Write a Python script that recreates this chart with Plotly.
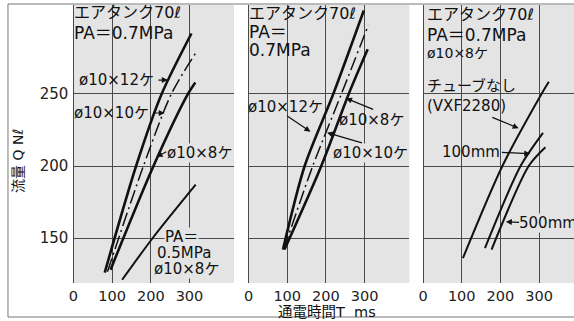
import plotly.graph_objects as go

# ---------------- data ----------------
x_ticks = [0, 100, 200, 300]
y_ticks = [150, 200, 250]

# panel 1 (PA = 0.7MPa, various tube counts)
p1_12_x = [81, 162, 228, 305]
p1_12_y = [126, 200, 250, 292]
p1_10_x = [88, 181, 253, 315]
p1_10_y = [126.5, 200, 250, 278]
p1_8_x = [96, 207, 296, 315]
p1_8_y = [128, 200, 250, 258]
p1_05_x = [126, 205, 316]
p1_05_y = [121, 150, 187]

# panel 2
p2_12_x = [89, 145, 219, 298]
p2_12_y = [142, 200, 250, 308]
p2_10_x = [91, 166, 240, 310]
p2_10_y = [142, 200, 250, 298]
p2_8_x = [93, 188, 259, 308]
p2_8_y = [142, 200, 250, 281]

# panel 3
p3_none_x = [103, 205, 306, 325]
p3_none_y = [136, 200, 250, 258.5]
p3_100_x = [160, 252, 310]
p3_100_y = [143, 200, 223]
p3_500_x = [177, 273, 316]
p3_500_y = [142, 200, 213]

# ---------------- style ----------------
BG = "#e4e4e4"
GRID = "#4a4a4a"
INK = "#111111"
FONT = "DejaVu Sans, Noto Sans CJK JP, sans-serif"
Y_RANGE = [118.75, 311.8]

fig = go.Figure()

def add_line(xs, ys, ax, width=2.6, dash="solid"):
    fig.add_trace(go.Scatter(
        x=xs, y=ys, xaxis=ax[0], yaxis=ax[1], mode="lines",
        line=dict(color=INK, width=width, dash=dash, shape="spline", smoothing=0.8),
        hoverinfo="skip", showlegend=False))

DD = "14px,4px,2px,4px"
A1 = ("x", "y"); A2 = ("x2", "y2"); A3 = ("x3", "y3")
add_line(p1_12_x, p1_12_y, A1)
add_line(p1_10_x, p1_10_y, A1, width=1.5, dash=DD)
add_line(p1_8_x, p1_8_y, A1)
add_line(p1_05_x, p1_05_y, A1, width=2.0)
add_line(p2_12_x, p2_12_y, A2)
add_line(p2_10_x, p2_10_y, A2, width=1.5, dash=DD)
add_line(p2_8_x, p2_8_y, A2)
add_line(p3_none_x, p3_none_y, A3, width=2.0)
add_line(p3_100_x, p3_100_y, A3, width=2.0)
add_line(p3_500_x, p3_500_y, A3, width=2.0)

xcommon = dict(tickvals=x_ticks, ticktext=[str(v) for v in x_ticks], showgrid=True,
               gridcolor=GRID, gridwidth=1, zeroline=True, zerolinecolor=GRID,
               zerolinewidth=1, ticks="", ticklabelstandoff=2,
               tickfont=dict(family=FONT, size=14.5, color="#222"), fixedrange=True)
ycommon = dict(range=Y_RANGE, tickvals=y_ticks, showgrid=True, gridcolor=GRID,
               gridwidth=1, zeroline=False, ticks="", fixedrange=True, ticklabelstandoff=4,
               tickfont=dict(family=FONT, size=15, color="#222"))

W = 574.0
fig.update_layout(
    width=574, height=321,
    margin=dict(l=0, r=0, t=5, b=38),
    paper_bgcolor="white", plot_bgcolor=BG,
    xaxis=dict(domain=[69 / W, 231 / W], range=[0, 415], anchor="y", **xcommon),
    xaxis2=dict(domain=[245.7 / W, 408 / W], range=[0, 416], anchor="y2", **xcommon),
    xaxis3=dict(domain=[421.7 / W, 1.0], range=[0, 390], anchor="y3", **xcommon),
    yaxis=dict(anchor="x", showticklabels=True, **ycommon),
    yaxis2=dict(anchor="x2", showticklabels=False, **ycommon),
    yaxis3=dict(anchor="x3", showticklabels=False, **ycommon),
)

anns = []

def label(text, x, y, ax, size=15, bg=None):
    anns.append(dict(text=text, x=x, y=y, xref=ax[0], yref=ax[1], xanchor="left",
                     yanchor="middle", showarrow=False, bgcolor=bg, borderpad=0, xshift=-3,
                     font=dict(family=FONT, size=size, color=INK)))

def arrow(tail_x, tail_y, tip_x, tip_y, ax):
    anns.append(dict(text="", x=tip_x, y=tip_y, ax=tail_x, ay=tail_y, xref=ax[0],
                     yref=ax[1], axref=ax[0], ayref=ax[1], showarrow=True,
                     arrowhead=2, arrowsize=1, arrowwidth=1.2, arrowcolor=INK))

# panel 1
label("エアタンク70ℓ", 8, 306.3, A1, size=16)
label("PA＝0.7MPa", 8, 292.4, A1, size=17)
label("ø10×12ケ", 20, 259.7, A1)
arrow(216, 259.7, 244, 259.7, A1)
label("ø10×10ケ", 7, 236.8, A1)
arrow(202, 236.8, 236, 236.8, A1)
label("ø10×8ケ", 246, 209, A1, bg=BG)
arrow(244, 210.4, 215, 206.3, A1)
label("PA＝", 241, 150.7, A1, bg=BG)
label("0.5MPa", 220, 139.6, A1, bg=BG)
label("ø10×8ケ", 213, 128.5, A1, bg=BG)

# panel 2
label("エアタンク70ℓ", 6, 306, A2, size=16)
label("PA＝", 6, 293, A2, size=17)
label("0.7MPa", 6, 280.6, A2, size=17)
label("ø10×12ケ", 3, 241, A2)
arrow(96, 235.4, 160, 223.8, A2)
label("ø10×8ケ", 240, 232, A2)
arrow(326, 238.9, 252, 247, A2)
label("ø10×10ケ", 224, 209, A2, bg=BG)
arrow(297, 215.8, 203, 223.1, A2)

# panel 3
label("エアタンク70ℓ", 16, 304.9, A3, size=16)
label("PA＝0.7MPa", 16, 291, A3, size=17)
label("ø10×8ケ", 15, 278.5, A3, size=14)
label("チューブなし", 16, 255.6, A3, size=15)
label("(VXF2280)", 16, 241.7, A3, size=15)
arrow(175, 234.2, 247, 226.2, A3)
label("100mm", 55, 209.5, A3)
arrow(200, 209.5, 277, 208.5, A3)
label("500mm", 252, 160.6, A3, bg=BG)
arrow(252, 160.8, 214, 161.3, A3)

# axis titles
anns.append(dict(text="流量 Q Nℓ", x=13 / W, y=(283 - 161) / 278, xref="paper", yref="paper",
                 showarrow=False, textangle=-90, xanchor="center", yanchor="middle",
                 font=dict(family=FONT, size=14, color=INK)))
anns.append(dict(text="通電時間T  ms", x=325 / W, y=(283 - 312) / 278, xref="paper", yref="paper",
                 showarrow=False, xanchor="center", yanchor="middle",
                 font=dict(family=FONT, size=14.5, color=INK)))

fig.update_layout(annotations=anns)

# outer frame
fig.add_shape(type="rect", xref="paper", yref="paper", x0=3 / W, x1=1.02,
              y0=(283 - 317) / 278, y1=(283 - 4) / 278,
              line=dict(color="#777777", width=1), fillcolor="rgba(0,0,0,0)", layer="above")

fig.write_html("out.html")
